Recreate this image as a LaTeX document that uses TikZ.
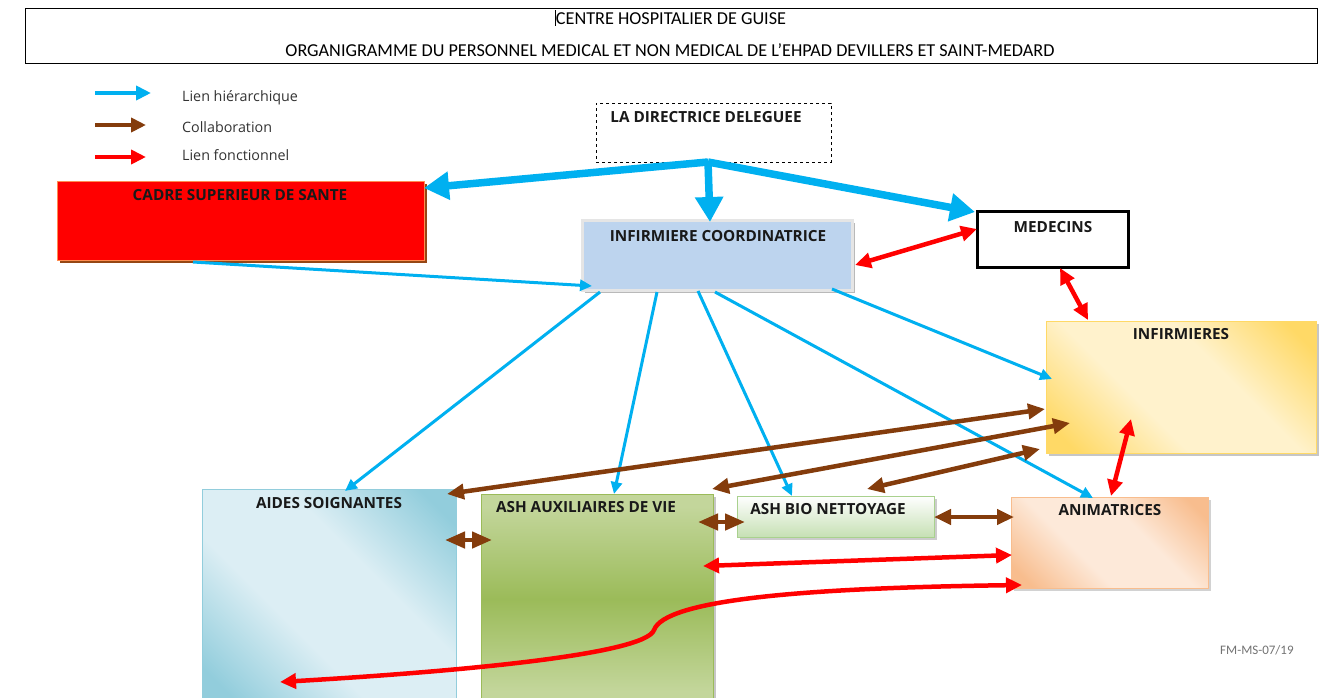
\documentclass[tikz,border=0pt]{standalone}
\usepackage{fontspec}
\setmainfont{Carlito}
\newfontfamily\osans{Open Sans}
\usetikzlibrary{arrows.meta}
\definecolor{cblue}{RGB}{0,176,240}
\definecolor{cred}{RGB}{255,0,0}
\definecolor{cbrown}{RGB}{132,60,12}
\definecolor{cshadow}{RGB}{150,70,20}
\definecolor{cadreborder}{RGB}{255,140,80}
\definecolor{asdark}{RGB}{146,205,220}
\definecolor{aslight}{RGB}{220,238,244}
\definecolor{indark}{RGB}{255,217,102}
\definecolor{inlight}{RGB}{255,242,204}
\definecolor{andark}{RGB}{248,189,142}
\definecolor{anlight}{RGB}{253,233,217}
\definecolor{gvl}{RGB}{195,214,155}
\definecolor{gvd}{RGB}{155,187,89}
\definecolor{gbl}{RGB}{198,224,180}
\definecolor{gbborder}{RGB}{169,209,142}
\definecolor{coordfill}{RGB}{189,212,238}
\pgfdeclarehorizontalshading{asshade}{100bp}{color(0bp)=(asdark); color(20bp)=(asdark); color(40bp)=(aslight); color(60bp)=(aslight); color(80bp)=(asdark); color(100bp)=(asdark)}
\pgfdeclarehorizontalshading{inshade}{100bp}{color(0bp)=(indark); color(20bp)=(indark); color(40bp)=(inlight); color(60bp)=(inlight); color(80bp)=(indark); color(100bp)=(indark)}
\pgfdeclarehorizontalshading{anshade}{100bp}{color(0bp)=(andark); color(20bp)=(andark); color(40bp)=(anlight); color(60bp)=(anlight); color(80bp)=(andark); color(100bp)=(andark)}
\pgfdeclareverticalshading{avshade}{100bp}{color(0bp)=(gvl); color(28bp)=(gvl); color(50bp)=(gvd); color(72bp)=(gvl); color(100bp)=(gvl)}
\pgfdeclareverticalshading{abshade}{100bp}{color(0bp)=(gbl); color(25bp)=(gbl); color(75bp)=(white); color(100bp)=(white)}
\tikzset{
  box/.style={anchor=north west, inner sep=0pt, outer sep=0pt},
  lbl/.style={anchor=base, inner sep=0pt, font=\osans\bfseries\fontsize{15.3}{18}\selectfont, text=black!90},
  hdr/.style={anchor=base, inner sep=0pt, font=\fontsize{18.2}{21}\selectfont},
  leg/.style={anchor=base west, inner sep=0pt, font=\osans\fontsize{14.3}{17}\selectfont, text=black!80},
  hierthick/.style={draw=cblue, line width=7.5pt, -{Triangle[length=25pt,width=27pt]}},
  hier/.style={draw=cblue, line width=3pt, -{Triangle[length=12pt,width=11pt]}},
  legarrow/.style={line width=4pt, -{Triangle[length=15pt,width=14pt]}},
  fonc/.style={draw=cred, line width=4.5pt, {Triangle[length=16pt,width=15pt]}-{Triangle[length=16pt,width=15pt]}},
  collab/.style={draw=cbrown, line width=4.5pt, {Triangle[length=17pt,width=15pt]}-{Triangle[length=17pt,width=15pt]}},
  collabshort/.style={draw=cbrown, line width=4.5pt, {Triangle[length=20pt,width=16pt]}-{Triangle[length=20pt,width=16pt]}}
}
\begin{document}
\begin{tikzpicture}[x=1pt,y=-1pt]
\clip (0,0) rectangle (1329,697);
\fill[white] (0,0) rectangle (1329,697);
% header
\node[box, draw=black, line width=1pt, minimum width=1292pt, minimum height=55pt] (header) at (25,8) {};
\node[hdr] (h1) at (671,24) {CENTRE HOSPITALIER DE GUISE};
\node[hdr] (h2) at (670,56) {ORGANIGRAMME DU PERSONNEL MEDICAL ET NON MEDICAL DE L’EHPAD DEVILLERS ET SAINT-MEDARD};
\draw[line width=0.6pt] (555,10) -- (555,26);
% legend
\coordinate (l1a) at (95,93); \coordinate (l1b) at (151,93);
\coordinate (l2a) at (95,125); \coordinate (l2b) at (146,125);
\coordinate (l3a) at (95,157); \coordinate (l3b) at (146,157);
\draw[legarrow, draw=cblue] (l1a) -- (l1b);
\draw[legarrow, draw=cbrown] (l2a) -- (l2b);
\draw[legarrow, draw=cred] (l3a) -- (l3b);
\node[leg] (t1) at (182,101) {Lien hiérarchique};
\node[leg] (t2) at (182,132) {Collaboration};
\node[leg] (t3) at (182,160) {Lien fonctionnel};
% boxes
\node[box, draw=black, line width=1pt, dash pattern=on 3pt off 3pt, minimum width=235pt, minimum height=59pt] (dir) at (596,103) {};
\fill[cshadow] (60,184) rectangle (427,263);
\node[box, fill=cred, draw=cadreborder, line width=0.8pt, minimum width=367pt, minimum height=79pt] (cadre) at (57,181) {};
\fill[gray!55] (585,223) rectangle (855,293);
\node[box, fill=coordfill, draw=gray!20, line width=3pt, minimum width=270pt, minimum height=70pt] (coord) at (582,220) {};
\node[box, fill=white, draw=black, line width=3pt, minimum width=151pt, minimum height=56pt] (med) at (977,211) {};
\fill[gray!45] (1049,324) rectangle (1319,456);
\node[box, shading=inshade, shading angle=45, draw=indark, line width=1pt, minimum width=270pt, minimum height=132pt] (inf) at (1046,321) {};
\node[box, shading=asshade, shading angle=45, draw=asdark, line width=1pt, minimum width=254pt, minimum height=215pt] (aides) at (202,489) {};
\fill[gray!45] (484,497) rectangle (716,705);
\node[box, shading=avshade, draw=gvd, line width=1pt, minimum width=232pt, minimum height=210pt] (ashv) at (481,494) {};
\fill[gray!40] (740,499) rectangle (937,540);
\node[box, shading=abshade, draw=gbborder, line width=1pt, minimum width=197pt, minimum height=41pt] (ashb) at (737,496) {};
\fill[gray!35] (1014,500) rectangle (1211,591);
\node[box, shading=anshade, shading angle=45, draw=andark, line width=1pt, minimum width=197pt, minimum height=91pt] (anim) at (1011,497) {};
% labels
\node[lbl] (dirl) at (706,122) {LA DIRECTRICE DELEGUEE};
\node[lbl] (cadrel) at (240,200) {CADRE SUPERIEUR DE SANTE};
\node[lbl] (coordl) at (718,241) {INFIRMIERE COORDINATRICE};
\node[lbl] (medl) at (1053,232) {MEDECINS};
\node[lbl] (infl) at (1181,339) {INFIRMIERES};
\node[lbl] (aidesl) at (329,508) {AIDES SOIGNANTES};
\node[lbl] (ashvl) at (586,512) {ASH AUXILIAIRES DE VIE};
\node[lbl] (ashbl) at (828,514) {ASH BIO NETTOYAGE};
\node[lbl] (animl) at (1110,515) {ANIMATRICES};
\node[anchor=base west, inner sep=0pt, font=\fontsize{13}{15}\selectfont, text=black!55] (fm) at (1220,654) {FM-MS-07/19};
% hierarchical links
\coordinate (dsrc) at ([shift={(112,59)}]dir.north west);
\draw[hierthick] (dsrc) -- ([shift={(367,7)}]cadre.north west);
\draw[hierthick] (dsrc) -- ([shift={(128,2)}]coord.north west);
\draw[hierthick] (dsrc) -- ([shift={(-2,1)}]med.north west);
\draw[hier] ([shift={(136,81)}]cadre.north west) -- ([shift={(10,66)}]coord.north west);
\draw[hier] ([shift={(18,72)}]coord.north west) -- ([shift={(143,2)}]aides.north west);
\draw[hier] ([shift={(75,72)}]coord.north west) -- ([shift={(133,0)}]ashv.north west);
\draw[hier] ([shift={(116,71)}]coord.north west) -- ([shift={(55,0)}]ashb.north west);
\draw[hier] ([shift={(133,72)}]coord.north west) -- ([shift={(82,1)}]anim.north west);
\draw[hier] ([shift={(250,69)}]coord.north west) -- ([shift={(6,58)}]inf.north west);
% collaboration
\draw[collab] ([shift={(245,5)}]aides.north west) -- ([shift={(-1,88)}]inf.north west);
\draw[collab] ([shift={(231,-5)}]ashv.north west) -- ([shift={(24,102)}]inf.north west);
\draw[collab] ([shift={(130,-7)}]ashb.north west) -- ([shift={(-6,128)}]inf.north west);
\draw[collabshort] ([shift={(243,51)}]aides.north west) -- ([shift={(11,46)}]ashv.north west);
\draw[collabshort] ([shift={(217,28)}]ashv.north west) -- ([shift={(8,26)}]ashb.north west);
\draw[collab] ([shift={(197,21)}]ashb.north west) -- ([shift={(3,20)}]anim.north west);
% functional
\draw[fonc] ([shift={(273,45)}]coord.north west) -- ([shift={(0,18)}]med.north west);
\draw[fonc] ([shift={(83,57)}]med.north west) -- ([shift={(42,-1)}]inf.north west);
\draw[fonc] ([shift={(85,98)}]inf.north west) -- ([shift={(100,-1)}]anim.north west);
\draw[fonc] ([shift={(222,72)}]ashv.north west) -- ([shift={(1,58)}]anim.north west);
\coordinate (bend) at (654,630);
\draw[fonc] ([shift={(78,193)}]aides.north west) .. controls (450,672) and (645,655) .. (bend) .. controls (665,600) and (800,588) .. ([shift={(11,88)}]anim.north west);
\end{tikzpicture}
\end{document}
